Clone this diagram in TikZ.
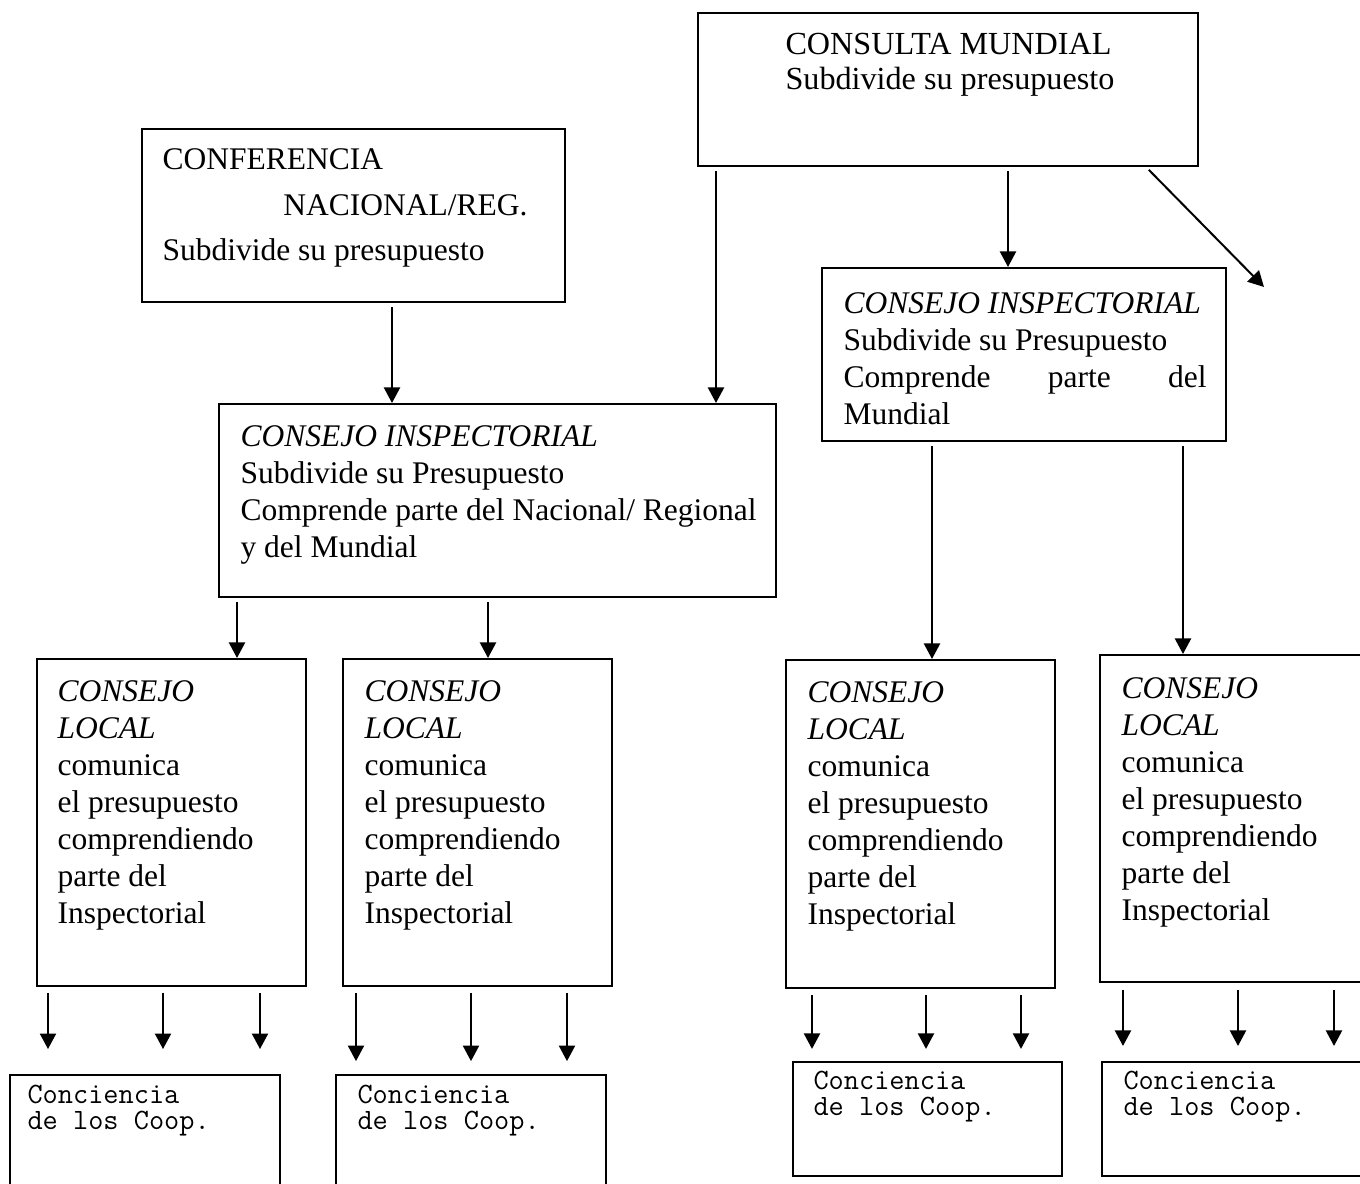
\documentclass[tikz,border=0pt]{standalone}
\usepackage{fontspec}
\setmainfont{Liberation Serif}
\usetikzlibrary{arrows.meta,fit}
\newcommand\stk[2]{\vtop{\baselineskip=#1\lineskiplimit=-20pt\lineskip=0pt\relax #2}}
\begin{document}
\begin{tikzpicture}[x=0.373pt,y=-0.373pt,
 box/.style={draw, line width=0.75pt, inner sep=0pt},
 txt/.style={anchor=base west, inner sep=0pt, font=\fontsize{11.75}{13.8}\selectfont},
 mono/.style={anchor=base west, inner sep=0pt, font=\ttfamily\fontsize{11}{9.6}\selectfont},
 arr/.style={line width=0.75pt, -{Triangle[length=5.8pt,width=6pt]}, shorten <=1.5pt}]
\useasboundingbox (0,0) rectangle (1360,1184);

% top boxes
\node[box, fit={(698,13) (1198,166)}] (cm) {};
\node[txt, font=\fontsize{12}{13.8}\selectfont] (cmt) at (785,55) {\stk{13.05pt}{\hbox{CONSULTA MUNDIAL}\hbox{Subdivide su presupuesto}}};

\node[box, fit={(142,129) (565,302)}] (conf) {};
\node[txt] (conft) at (162,170) {\stk{16.8pt}{\hbox{CONFERENCIA}\hbox{\kern45.1pt NACIONAL/REG.}\hbox{Subdivide su presupuesto}}};

% inspectorial boxes
\node[box, fit={(219,404) (776,597)}] (ci1) {};
\node[txt] (ci1t) at (240,447) {\stk{13.8pt}{\hbox{\itshape CONSEJO INSPECTORIAL}\hbox{Subdivide su Presupuesto}\hbox{Comprende parte del Nacional/ Regional}\hbox{y del Mundial}}};

\node[box, fit={(822,268) (1226,441)}] (ci2) {};
\node[txt] (ci2t) at (843,314) {\stk{13.8pt}{\hbox{\itshape CONSEJO INSPECTORIAL}\hbox{Subdivide su Presupuesto}\hbox to 135.4pt{Comprende\hfill parte\hfill del}\hbox{Mundial}}};

% local boxes
\node[box, fit={(37,659) (306,986)}] (l1) {};
\node[box, fit={(343,659) (612,986)}] (l2) {};
\node[box, fit={(786,660) (1055,988)}] (l3) {};
\node[box, fit={(1100,655) (1372,982)}] (l4) {};
\newcommand\loctext{\stk{13.8pt}{\hbox{\itshape CONSEJO}\hbox{\itshape LOCAL}\hbox{comunica}\hbox{el presupuesto}\hbox{comprendiendo}\hbox{parte del}\hbox{Inspectorial}}}
\node[txt] (l1t) at (57,702) {\loctext};
\node[txt] (l2t) at (364,702) {\loctext};
\node[txt] (l3t) at (807,703) {\loctext};
\node[txt] (l4t) at (1121,699) {\loctext};

% bottom boxes
\node[box, fit={(10,1075) (280,1196)}] (b1) {};
\node[box, fit={(336,1075) (606,1196)}] (b2) {};
\node[box, fit={(793,1062) (1062,1176)}] (b3) {};
\node[box, fit={(1102,1062) (1372,1176)}] (b4) {};
\newcommand\cooptext{\stk{9.6pt}{\hbox{Conciencia}\hbox{de los Coop.}}}
\node[mono] (b1t) at (27,1104) {\cooptext};
\node[mono] (b2t) at (357,1104) {\cooptext};
\node[mono] (b3t) at (813,1090) {\cooptext};
\node[mono] (b4t) at (1123,1090) {\cooptext};

% connectors
\draw[arr] (392,0 |- conf.south) -- (392,0 |- ci1.north);
\draw[arr] (716,0 |- cm.south) -- (716,0 |- ci1.north);
\draw[arr] (1008,0 |- cm.south) -- (1008,0 |- ci2.north);
\coordinate (diagend) at (1264,287);
\draw[arr] (1146,0 |- cm.south) -- (diagend);

\draw[arr] (237,0 |- ci1.south) -- (237,0 |- l1.north);
\draw[arr] (488,0 |- ci1.south) -- (488,0 |- l2.north);
\draw[arr] (932,0 |- ci2.south) -- (932,0 |- l3.north);
\draw[arr] (1183,0 |- ci2.south) -- (1183,0 |- l4.north);

\foreach \x in {48,163,260}
  \draw[arr, shorten <=2.2pt, shorten >=9.3pt] (\x,0 |- l1.south) -- (\x,0 |- b1.north);
\foreach \x in {356,471,567}
  \draw[arr, shorten <=2.2pt, shorten >=4.8pt] (\x,0 |- l2.south) -- (\x,0 |- b2.north);
\foreach \x in {812,926,1021}
  \draw[arr, shorten <=2.2pt, shorten >=4.5pt] (\x,0 |- l3.south) -- (\x,0 |- b3.north);
\foreach \x in {1123,1238,1334}
  \draw[arr, shorten <=2.6pt, shorten >=5.6pt] (\x,0 |- l4.south) -- (\x,0 |- b4.north);
\end{tikzpicture}
\end{document}
